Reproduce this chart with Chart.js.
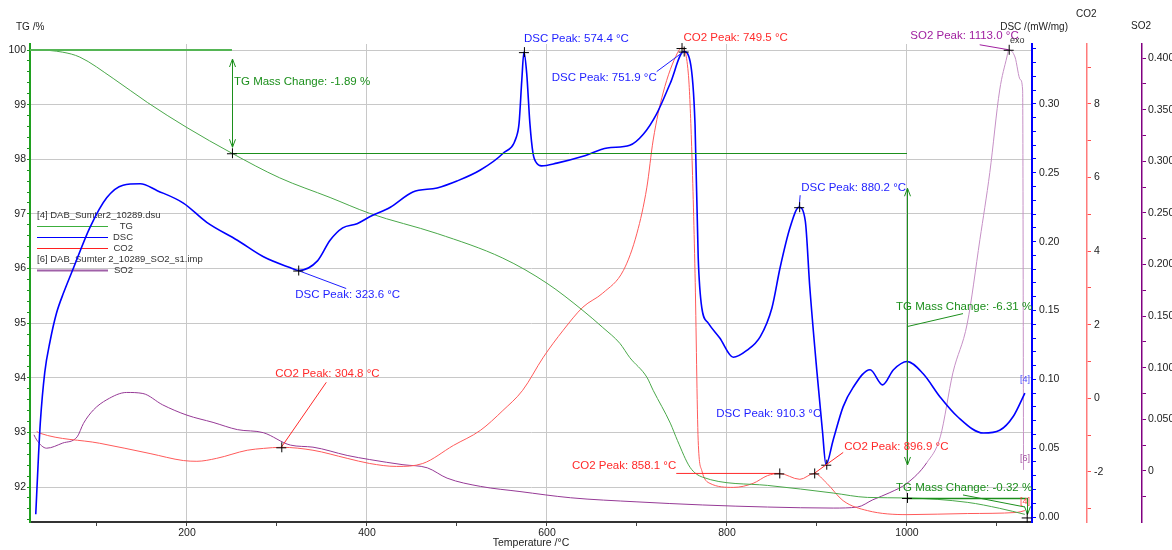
<!DOCTYPE html>
<html>
<head>
<meta charset="utf-8">
<script src="https://cdn.jsdelivr.net/npm/chart.js@4.4.1/dist/chart.umd.min.js"></script>
<style>
html, body { margin: 0; padding: 0; background: #fff; overflow: hidden; }
canvas { display: block; }
</style>
</head>
<body>
<canvas id="sta" width="1172" height="550"></canvas>
<script>
// values
const tgTemp = [26, 33, 62, 81, 118, 156, 200, 250, 303, 359, 403, 478, 551, 600, 640, 662, 681, 692, 711, 718, 737, 745, 759, 773, 845, 918, 956, 1000, 1067, 1103, 1131];
const tgMass = [100.0, 100.0, 99.96, 99.87, 99.48, 99.04, 98.58, 98.11, 97.66, 97.30, 97.01, 96.64, 96.19, 95.73, 95.23, 94.92, 94.63, 94.37, 94.01, 93.77, 93.17, 92.85, 92.36, 92.18, 92.03, 91.89, 91.81, 91.80, 91.72, 91.61, 91.50];

const dscTemp = [32, 35, 37, 42, 48, 55, 63, 74, 92, 111, 129, 148, 167, 196, 222, 256, 285, 315, 324, 345, 359, 373, 389, 403, 426, 451, 478, 500, 526, 551, 566, 569, 572, 574.4, 577.5, 581, 584.5, 588.5, 594, 611, 640, 667, 692, 707, 722, 737, 752, 759, 764.5, 768, 772, 779, 792, 807, 822, 837, 850, 859, 870, 880, 887, 892, 900, 906, 910, 918, 929, 940, 959, 973, 985, 1000, 1018, 1037, 1056, 1085, 1103, 1118, 1131];
const dscHeat = [0.002, 0.044, 0.068, 0.105, 0.128, 0.148, 0.163, 0.181, 0.210, 0.232, 0.241, 0.242, 0.237, 0.228, 0.214, 0.201, 0.189, 0.181, 0.179, 0.186, 0.201, 0.210, 0.213, 0.218, 0.225, 0.236, 0.239, 0.244, 0.252, 0.264, 0.276, 0.286, 0.317, 0.3376, 0.322, 0.286, 0.264, 0.257, 0.255, 0.257, 0.262, 0.268, 0.270, 0.278, 0.293, 0.315, 0.338, 0.331, 0.285, 0.189, 0.152, 0.141, 0.130, 0.116, 0.121, 0.131, 0.152, 0.181, 0.210, 0.225, 0.215, 0.167, 0.105, 0.063, 0.038, 0.056, 0.080, 0.094, 0.107, 0.096, 0.107, 0.113, 0.104, 0.087, 0.073, 0.061, 0.063, 0.073, 0.090];

const co2Temp = [33, 37, 103, 159, 196, 211, 233, 267, 285, 305, 340, 378, 403, 433, 462, 496, 526, 551, 573, 596, 618, 640, 662, 685, 700, 711, 718, 729, 745, 749.5, 757, 760.5, 764.5, 768, 772, 781, 807, 829, 845, 858, 881, 897, 911, 929, 956, 1000, 1067, 1122, 1131];
const co2Val = [-0.9, -0.95, -1.22, -1.50, -1.69, -1.71, -1.63, -1.41, -1.36, -1.33, -1.41, -1.63, -1.77, -1.85, -1.77, -1.28, -0.87, -0.33, 0.22, 1.12, 1.85, 2.48, 2.86, 3.48, 4.49, 5.74, 7.02, 8.30, 9.39, 9.52, 8.84, 7.02, 3.40, -1.14, -1.96, -2.31, -2.42, -2.31, -2.10, -2.04, -2.20, -2.04, -2.31, -2.78, -3.05, -3.16, -3.13, -3.10, -3.05];

const so2Temp = [30, 33, 44, 62, 78, 85, 96, 111, 133, 151, 173, 200, 229, 256, 285, 315, 340, 378, 403, 440, 467, 489, 526, 570, 626, 700, 773, 845, 918, 945, 962, 981, 1000, 1022, 1037, 1051, 1067, 1081, 1092, 1103, 1111, 1113, 1120, 1126, 1128.5, 1129.5];
const so2Val = [0.035, 0.030, 0.022, 0.027, 0.033, 0.046, 0.059, 0.069, 0.076, 0.075, 0.064, 0.054, 0.047, 0.040, 0.037, 0.025, 0.023, 0.015, 0.011, 0.006, 0.003, -0.007, -0.015, -0.020, -0.026, -0.030, -0.033, -0.035, -0.036, -0.035, -0.028, -0.021, -0.012, 0.008, 0.033, 0.095, 0.143, 0.224, 0.289, 0.369, 0.401, 0.408, 0.401, 0.379, 0.369, 0.001];

// labelled ticks
const tempTicks = [200, 400, 600, 800, 1000];
const tgTicks = [92, 93, 94, 95, 96, 97, 98, 99, 100];
const dscTicks = [0, 0.05, 0.1, 0.15, 0.2, 0.25, 0.3];
const co2Ticks = [-2, 0, 2, 4, 6, 8];
const so2Ticks = [0, 0.05, 0.1, 0.15, 0.2, 0.25, 0.3, 0.35, 0.4];

// peak markers: label, axis, temperature, value, text offset, leader end
const peakMarks = [
  { label: 'DSC Peak: 574.4 °C', axis: 'dsc', t: 574.4, v: 0.3376, tx: 0, ty: -13, align: 'left' },
  { label: 'CO2 Peak: 749.5 °C', axis: 'co2', t: 749.5, v: 9.52, tx: 2, ty: -10, align: 'left' },
  { label: 'DSC Peak: 751.9 °C', axis: 'dsc', t: 751.9, v: 0.338, tx: -27, ty: 26, align: 'right', lx: -27, ly: 20 },
  { label: 'SO2 Peak: 1113.0 °C', axis: 'so2', t: 1113.0, v: 0.408, tx: 10, ty: -14, align: 'right', lx: -29, ly: -5 },
  { label: 'DSC Peak: 323.6 °C', axis: 'dsc', t: 323.6, v: 0.179, tx: -3, ty: 24, align: 'left', lx: 48, ly: 18 },
  { label: 'CO2 Peak: 304.8 °C', axis: 'co2', t: 304.8, v: -1.33, tx: -6, ty: -73, align: 'left', lx: 45, ly: -65 },
  { label: 'DSC Peak: 880.2 °C', axis: 'dsc', t: 880.2, v: 0.225, tx: 2, ty: -19, align: 'left', lx: 1, ly: -12 },
  { label: 'DSC Peak: 910.3 °C', axis: 'dsc', t: 910.3, v: 0.038, tx: -5, ty: -51, align: 'right' },
  { label: 'CO2 Peak: 896.9 °C', axis: 'co2', t: 896.9, v: -2.04, tx: 30, ty: -27, align: 'left', lx: 29, ly: -21 },
  { label: 'CO2 Peak: 858.1 °C', axis: 'co2', t: 858.1, v: -2.04, tx: -103, ty: -8, align: 'right', lx: -103, ly: 0 }
];

const FAM = '"Liberation Sans", Arial, sans-serif';
const GREEN = '#1c8f1c';
const TEXTCOL = { dsc: '#1e1eff', co2: '#ff2a2a', so2: '#a020a0' };

function pts(xs, ys) { return xs.map((t, i) => ({ x: t, y: ys[i] })); }
function stepTicks(from, to, div) {
  const out = [];
  for (let i = from; i <= to; i++) out.push({ value: i / div });
  return out;
}

function line(ctx, x1, y1, x2, y2, col, w) {
  ctx.strokeStyle = col; ctx.lineWidth = w;
  ctx.beginPath(); ctx.moveTo(x1, y1); ctx.lineTo(x2, y2); ctx.stroke();
}
function cross(ctx, x, y) {
  line(ctx, x - 5, y + 0.5, x + 5, y + 0.5, '#000', 1);
  line(ctx, x + 0.5, y - 5, x + 0.5, y + 5, '#000', 1);
}
function head(ctx, x, y, dir, col) {
  ctx.strokeStyle = col; ctx.lineWidth = 1;
  ctx.beginPath(); ctx.moveTo(x - 3, y - dir * 8); ctx.lineTo(x, y); ctx.lineTo(x + 3, y - dir * 8); ctx.stroke();
}
function vArrow(ctx, x, y1, y2, col, both) {
  x = Math.round(x) + 0.5;
  line(ctx, x, y1, x, y2, col, 1);
  head(ctx, x, y2, 1, col);
  if (both) head(ctx, x, y1, -1, col);
}
function label(ctx, s, x, y, col, align, size) {
  ctx.font = (size || 11.5) + 'px ' + FAM;
  ctx.fillStyle = col; ctx.textAlign = align; ctx.textBaseline = 'middle';
  ctx.fillText(s, x, y);
}

const overlay = {
  id: 'overlay',
  beforeDatasetsDraw(chart) {
    const ctx = chart.ctx;
    ctx.save();
    label(ctx, '[4] DAB_Sumter2_10289.dsu', 37, 215, '#333', 'left', 9.5);
    label(ctx, '[6] DAB_Sumter 2_10289_SO2_s1.imp', 37, 259, '#333', 'left', 9.5);
    const rows = [[1, 226], [0, 237], [2, 248], [3, 270]];
    rows.forEach(([i, y]) => {
      const ds = chart.data.datasets[i];
      line(ctx, 37, y + 0.5, 108, y + 0.5, ds.legendColor, i === 3 ? 2 : 1.2);
      label(ctx, ds.label, 133, y, '#333', 'right', 9.5);
    });
    ctx.restore();
  },
  afterDatasetsDraw(chart) {
    const ctx = chart.ctx, s = chart.scales, a = chart.chartArea;
    const X = t => s.x.getPixelForValue(t);
    ctx.save();

    // TG mass steps
    const xa = X(250), y100 = s.tg.getPixelForValue(100), y1 = s.tg.getPixelForValue(98.11);
    const xb = X(1000), y2 = s.tg.getPixelForValue(91.80);
    const xc = X(1133), y3 = s.tg.getPixelForValue(91.48);
    line(ctx, a.left, y100, xa, y100, '#55b555', 2);
    line(ctx, xa, Math.round(y1) + 0.5, xb, Math.round(y1) + 0.5, GREEN, 1);
    vArrow(ctx, xa, y100 + 9, y1 - 6, GREEN, true);
    label(ctx, 'TG Mass Change: -1.89 %', xa + 2, y100 + 32, GREEN, 'left');
    cross(ctx, xa, y1);

    const top = y1 + 35, bot = y2 - 33, mid = (top + bot) / 2;
    vArrow(ctx, xb, top, bot, GREEN, true);
    line(ctx, xb, mid, xb + 56, mid - 13, GREEN, 1);
    label(ctx, 'TG Mass Change: -6.31 %', xb - 11, mid - 20, GREEN, 'left');

    line(ctx, xb, Math.round(y2) + 0.5, xc, Math.round(y2) + 0.5, GREEN, 1.4);
    cross(ctx, xb, y2);
    label(ctx, 'TG Mass Change: -0.32 %', xb - 11, y2 - 10, GREEN, 'left');
    line(ctx, xb + 56, y2 - 3, xc - 2, y2 + 9, GREEN, 1);
    vArrow(ctx, xc, y2, y3 - 1, GREEN, false);
    cross(ctx, xc, y3 + 2);

    // peak markers
    peakMarks.forEach(p => {
      const px = X(p.t), py = s[p.axis].getPixelForValue(p.v), col = TEXTCOL[p.axis];
      if (p.lx !== undefined) line(ctx, px, py, px + p.lx, py + p.ly, col, 1);
      label(ctx, p.label, px + p.tx, py + p.ty, col, p.align);
      cross(ctx, px, py);
    });

    // curve end tags
    const xe = X(1131);
    label(ctx, '[4]', xe, s.dsc.getPixelForValue(0.1), '#4a4aff', 'center', 9);
    label(ctx, '[6]', xe, s.so2.getPixelForValue(0.012), '#a050a0', 'center', 9);
    label(ctx, '[4]', xe, s.co2.getPixelForValue(-2.81), '#ff4040', 'center', 9);
    ctx.restore();
  },
  afterDraw(chart) {
    const ctx = chart.ctx;
    ctx.save();
    label(ctx, 'TG /%', 16, 27, '#222', 'left', 10);
    label(ctx, 'DSC /(mW/mg)', 1068, 27, '#222', 'right', 10);
    label(ctx, 'CO2', 1076, 14, '#222', 'left', 10);
    label(ctx, 'SO2', 1131, 26, '#222', 'left', 10);
    label(ctx, 'exo', 1010, 41, '#333', 'left', 9);
    ctx.restore();
  }
};

const tickFont = { family: FAM, size: 10.5 };
const clear = 'rgba(0,0,0,0)';

new Chart(document.getElementById('sta'), {
  type: 'line',
  data: {
    datasets: [
      { label: 'DSC', yAxisID: 'dsc', data: pts(dscTemp, dscHeat), borderColor: '#0000ff', legendColor: '#0000ff', borderWidth: 1.6 },
      { label: 'TG', yAxisID: 'tg', data: pts(tgTemp, tgMass), borderColor: '#4aa84a', legendColor: '#3cae3c', borderWidth: 1 },
      { label: 'CO2', yAxisID: 'co2', data: pts(co2Temp, co2Val), borderColor: '#ff5a5a', legendColor: '#ff2020', borderWidth: 1 },
      { label: 'SO2', yAxisID: 'so2', data: pts(so2Temp, so2Val), borderColor: '#963a96', legendColor: '#a060a8', borderWidth: 1,
        segment: { borderColor: c => c.p0.parsed.x >= 1015 ? '#c690c6' : '#963a96' } }
    ]
  },
  options: {
    responsive: false,
    animation: false,
    devicePixelRatio: 1,
    layout: { padding: { top: 44, left: 0, right: 0, bottom: 0 } },
    elements: { point: { radius: 0 }, line: { cubicInterpolationMode: 'monotone' } },
    plugins: { legend: { display: false }, tooltip: { enabled: false } },
    scales: {
      x: {
        type: 'linear', position: 'bottom', min: 25.6, max: 1138.9,
        afterFit: sc => { sc.height = 28; },
        afterBuildTicks: sc => { sc.ticks = stepTicks(1, 11, 0.01); },
        ticks: { font: tickFont, color: '#222', padding: 1, autoSkip: false, maxRotation: 0,
          callback: v => tempTicks.includes(v) ? String(v) : '' },
        grid: { color: c => tempTicks.includes(c.tick.value) ? '#c8c8c8' : clear, tickColor: '#444', tickLength: 4 },
        border: { color: '#333', width: 2 },
        title: { display: true, text: 'Temperature /°C', font: { family: FAM, size: 10.5 }, color: '#222', padding: { top: 0, bottom: 1 } }
      },
      tg: {
        type: 'linear', position: 'left', min: 91.36, max: 100.11,
        afterFit: sc => { sc.width = 30; },
        afterBuildTicks: sc => { sc.ticks = stepTicks(457, 500, 5); },
        ticks: { font: tickFont, color: '#222', padding: 1, autoSkip: false,
          callback: v => tgTicks.includes(v) ? String(v) : '' },
        grid: { color: c => tgTicks.includes(c.tick.value) ? '#c8c8c8' : clear, tickColor: '#1c8f1c', tickLength: 3 },
        border: { color: '#20a020', width: 2 }
      },
      dsc: {
        type: 'linear', position: 'right', min: -0.0036, max: 0.3435,
        afterFit: sc => { sc.width = 55; },
        afterBuildTicks: sc => { sc.ticks = stepTicks(0, 34, 100); },
        ticks: { font: tickFont, color: '#222', padding: 3, autoSkip: false,
          callback: v => dscTicks.includes(v) ? v.toFixed(2) : '' },
        grid: { drawOnChartArea: false, tickColor: '#0000ff', tickLength: 4 },
        border: { color: '#0000ff', width: 2 }
      },
      co2: {
        type: 'linear', position: 'right', min: -3.36, max: 9.63,
        afterFit: sc => { sc.width = 55; },
        afterBuildTicks: sc => { sc.ticks = stepTicks(-3, 9, 1); },
        ticks: { font: tickFont, color: '#222', padding: 3, autoSkip: false,
          callback: v => co2Ticks.includes(v) ? String(v) : '' },
        grid: { drawOnChartArea: false, tickColor: '#ff4d4d', tickLength: 4 },
        border: { color: '#ff7a7a', width: 1.5 }
      },
      so2: {
        type: 'linear', position: 'right', min: -0.0495, max: 0.4136,
        afterFit: sc => { sc.width = 30; },
        afterBuildTicks: sc => { sc.ticks = stepTicks(-1, 16, 40); },
        ticks: { font: tickFont, color: '#222', padding: 2, autoSkip: false,
          callback: v => so2Ticks.includes(v) ? (v === 0 ? '0' : v.toFixed(3)) : '' },
        grid: { drawOnChartArea: false, tickColor: '#800080', tickLength: 4 },
        border: { color: '#800080', width: 1.5 }
      }
    }
  },
  plugins: [overlay]
});
</script>
</body>
</html>
